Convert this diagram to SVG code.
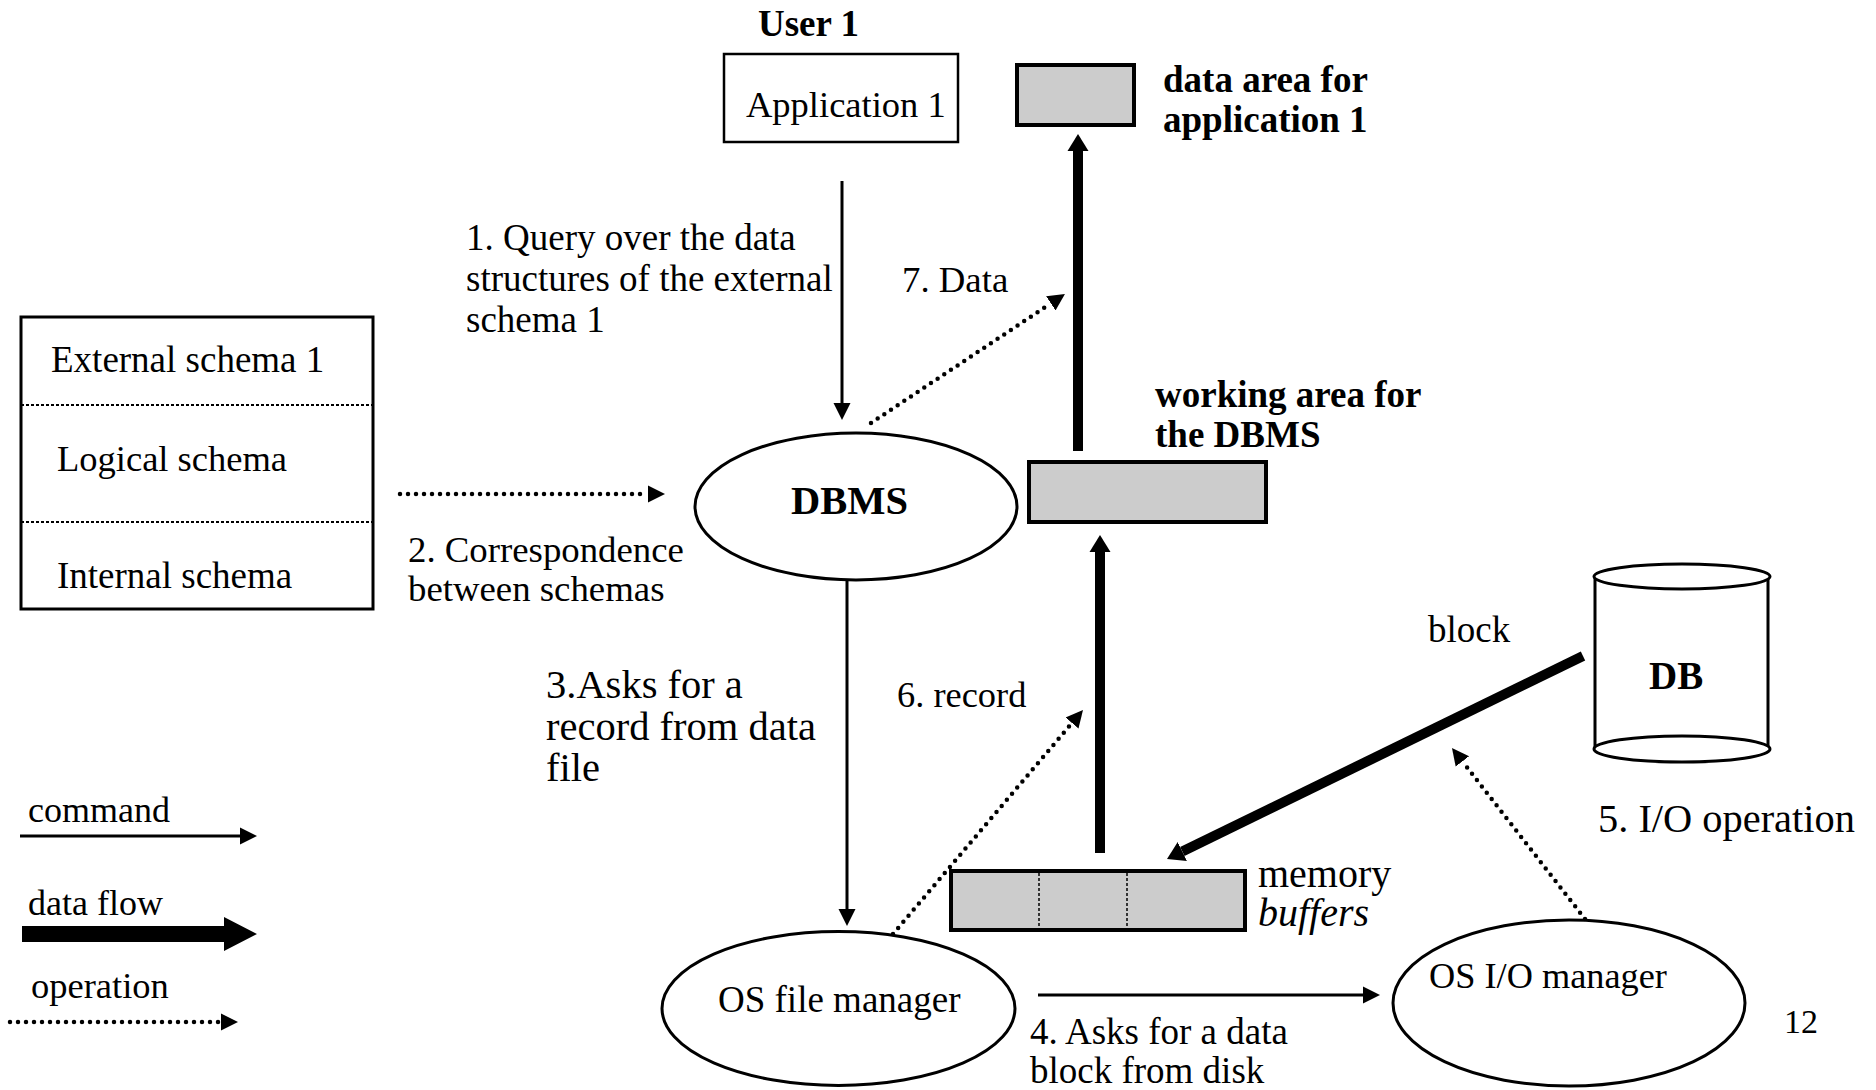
<svg xmlns="http://www.w3.org/2000/svg" width="1876" height="1090" viewBox="0 0 1876 1090">
<style>
text{font-family:"Liberation Serif","Times New Roman",serif;fill:#000}
.b{font-weight:bold}
.box{fill:#fff;stroke:#000}
.gray{fill:#cccccc;stroke:#000;stroke-width:4}
.ell{fill:#fff;stroke:#000;stroke-width:3}
.cmd{stroke:#000;stroke-width:3;fill:none}
.flow{stroke:#000;stroke-width:10;fill:none}
.op{stroke:#000;stroke-width:4.5;fill:none;stroke-linecap:round;stroke-dasharray:0 8}
.sep{stroke:#000;stroke-width:2;stroke-dasharray:3 2}
</style>
<defs>
<marker id="hCmd" viewBox="0 -10 20 20" refX="0" refY="0" markerWidth="20" markerHeight="20" markerUnits="userSpaceOnUse" orient="auto"><path d="M0,-8.5 L17,0 L0,8.5 Z" fill="#000"/></marker>
<marker id="hFlow" viewBox="0 -12 20 24" refX="0" refY="0" markerWidth="20" markerHeight="24" markerUnits="userSpaceOnUse" orient="auto"><path d="M0,-10.5 L17,0 L0,10.5 Z" fill="#000"/></marker>
<marker id="hOp" viewBox="0 -10 20 20" refX="0" refY="0" markerWidth="20" markerHeight="20" markerUnits="userSpaceOnUse" orient="auto"><path d="M0,-8.5 L17,0 L0,8.5 Z" fill="#000"/></marker>
</defs>

<g id="user1">
<text class="b" x="758" y="36" font-size="37">User 1</text>
</g>
<g id="application1">
<rect class="box" x="724" y="54" width="234" height="88" stroke-width="2.5"/>
<text x="746" y="117" font-size="36.5">Application 1</text>
</g>
<g id="data-area">
<rect class="gray" x="1017" y="65" width="117" height="60"/>
<text class="b" x="1163" y="92" font-size="37">data area for</text>
<text class="b" x="1163" y="132" font-size="37">application 1</text>
</g>
<g id="schemas">
<rect class="box" x="21" y="317" width="352" height="292" stroke-width="3"/>
<line class="sep" x1="21" y1="405" x2="373" y2="405"/>
<line class="sep" x1="21" y1="522" x2="373" y2="522"/>
<text x="51" y="372" font-size="37">External schema 1</text>
<text x="57" y="471" font-size="36.5">Logical schema</text>
<text x="57" y="588" font-size="37">Internal schema</text>
</g>
<g id="dbms">
<ellipse class="ell" cx="856" cy="506.5" rx="161" ry="73.5"/>
<text class="b" x="791" y="514" font-size="40.5">DBMS</text>
</g>
<g id="working-area">
<rect class="gray" x="1029" y="462" width="237" height="60"/>
<text class="b" x="1155" y="407" font-size="37">working area for</text>
<text class="b" x="1155" y="447" font-size="37">the DBMS</text>
</g>
<g id="db">
<path d="M1595,576.5 L1595,749 M1768,576.5 L1768,749" stroke="#000" stroke-width="3" fill="none"/>
<ellipse cx="1682" cy="749" rx="88" ry="13" fill="#fff" stroke="#000" stroke-width="3"/>
<ellipse cx="1682" cy="576.5" rx="88" ry="12.5" fill="#fff" stroke="#000" stroke-width="3"/>
<text class="b" x="1649" y="689" font-size="39">DB</text>
</g>
<g id="memory-buffers">
<rect class="gray" x="951" y="871" width="294" height="59"/>
<line x1="1039" y1="873" x2="1039" y2="928" stroke="#000" stroke-width="1.5" stroke-dasharray="3 2"/>
<line x1="1127" y1="873" x2="1127" y2="928" stroke="#000" stroke-width="1.5" stroke-dasharray="3 2"/>
<text x="1258" y="887" font-size="40">memory</text>
<text x="1258" y="926" font-size="40" font-style="italic">buffers</text>
</g>
<g id="os-file-manager">
<ellipse class="ell" cx="838.5" cy="1008.5" rx="176.5" ry="77"/>
<text x="718" y="1012" font-size="37">OS file manager</text>
</g>
<g id="os-io-manager">
<ellipse class="ell" cx="1569" cy="1003" rx="176" ry="83"/>
<text x="1429" y="988" font-size="36.3">OS I/O manager</text>
</g>

<g id="connectors">
<line class="cmd" x1="842" y1="181" x2="842" y2="403" marker-end="url(#hCmd)"/>
<line class="op" x1="400" y1="494" x2="648" y2="494" marker-end="url(#hOp)"/>
<line class="op" x1="871" y1="423" x2="1050.8" y2="303.4" marker-end="url(#hOp)"/>
<line class="flow" x1="1078" y1="451" x2="1078" y2="151" marker-end="url(#hFlow)"/>
<line class="cmd" x1="847" y1="580" x2="847" y2="909" marker-end="url(#hCmd)"/>
<line class="flow" x1="1100" y1="853" x2="1100" y2="552" marker-end="url(#hFlow)"/>
<line class="op" x1="893" y1="934" x2="1072" y2="723" marker-end="url(#hOp)"/>
<line class="flow" x1="1583" y1="656" x2="1182.3" y2="851.5" marker-end="url(#hFlow)"/>
<line class="op" x1="1585" y1="919" x2="1462.4" y2="761.4" marker-end="url(#hOp)"/>
<line class="cmd" x1="1038" y1="995" x2="1363" y2="995" marker-end="url(#hCmd)"/>
</g>

<g id="labels">
<text x="466" y="250" font-size="37">1. Query over the data</text>
<text x="466" y="291" font-size="37">structures of the external</text>
<text x="466" y="332" font-size="37">schema 1</text>
<text x="902" y="292" font-size="36.8">7. Data</text>
<text x="408" y="562" font-size="36.8">2. Correspondence</text>
<text x="408" y="601" font-size="36.8">between schemas</text>
<text x="546" y="698" font-size="40.5">3.Asks for a</text>
<text x="546" y="740" font-size="40.5">record from data</text>
<text x="546" y="781" font-size="40.5">file</text>
<text x="897" y="707" font-size="36.4">6. record</text>
<text x="1428" y="642" font-size="37">block</text>
<text x="1598" y="832" font-size="40.4">5. I/O operation</text>
<text x="1030" y="1044" font-size="37">4. Asks for a data</text>
<text x="1030" y="1083" font-size="37">block from disk</text>
<text x="1784" y="1033" font-size="34">12</text>
</g>

<g id="legend">
<text x="28" y="822" font-size="36">command</text>
<line class="cmd" x1="20" y1="836" x2="240" y2="836" marker-end="url(#hCmd)"/>
<text x="28" y="915" font-size="36">data flow</text>
<path d="M22,926 L224,926 L224,917 L257,934 L224,951 L224,942 L22,942 Z" fill="#000"/>
<text x="31" y="998" font-size="36.5">operation</text>
<line class="op" x1="10" y1="1022" x2="221" y2="1022" marker-end="url(#hOp)"/>
</g>
</svg>
